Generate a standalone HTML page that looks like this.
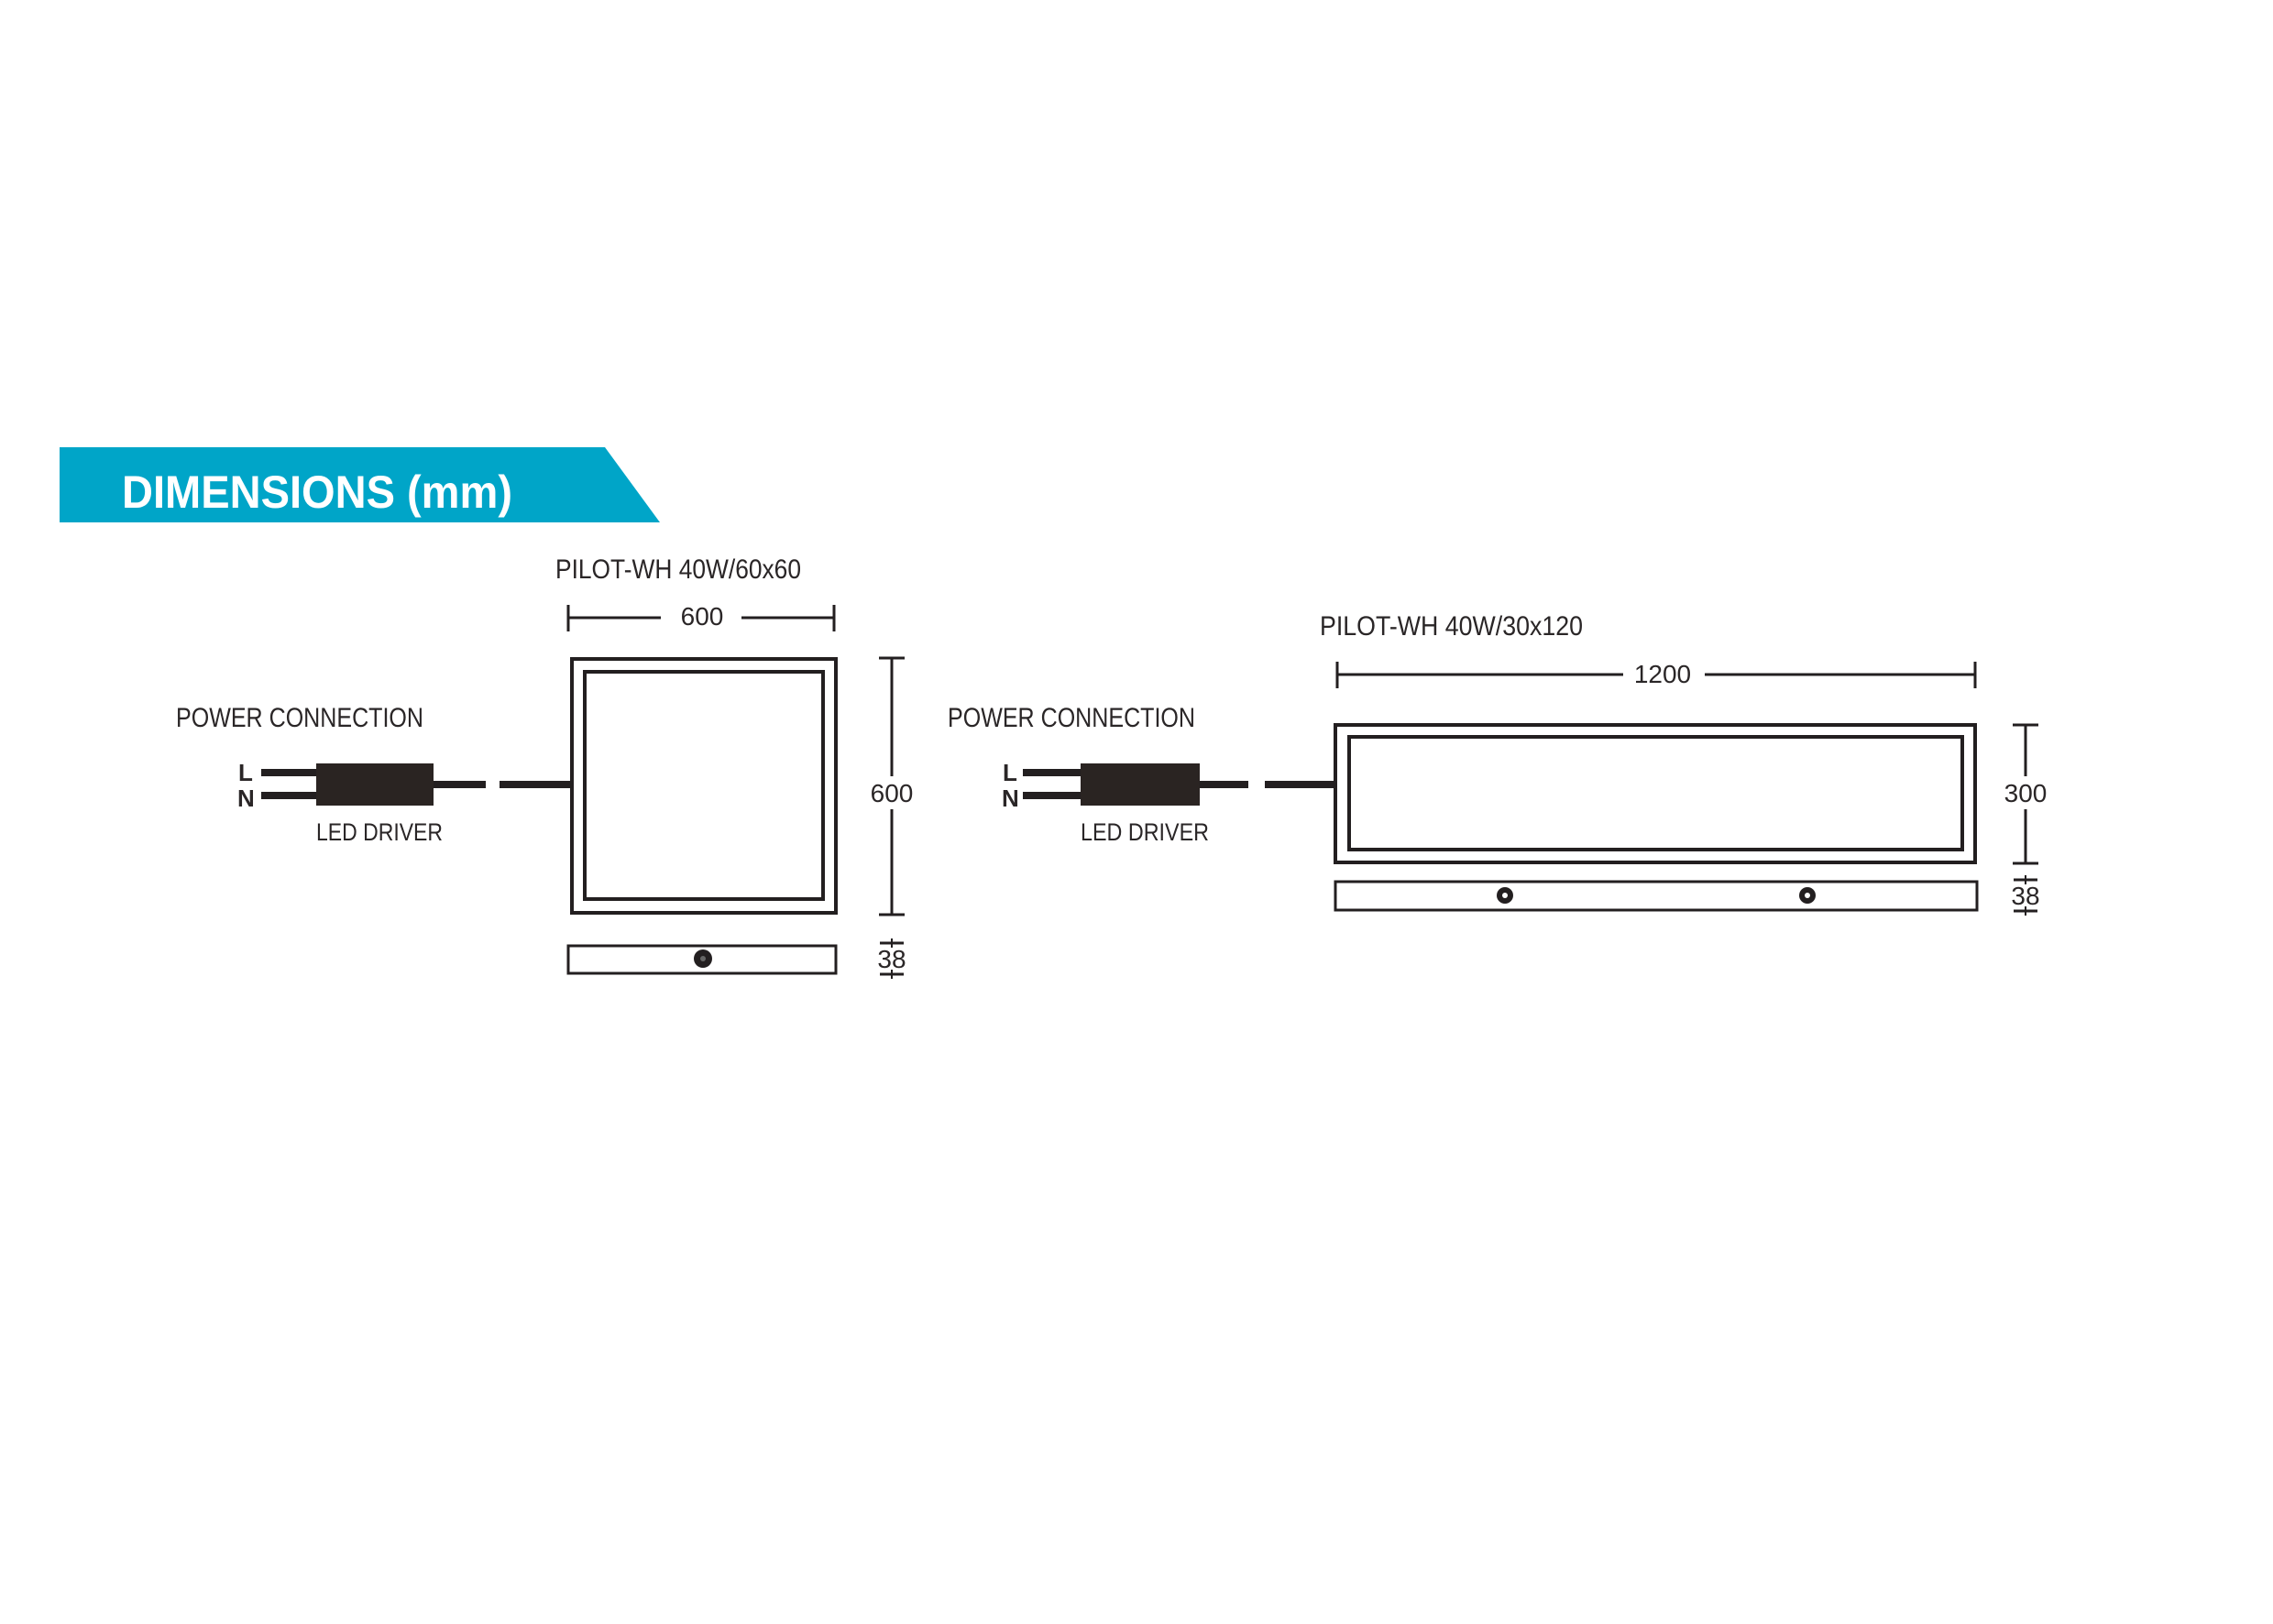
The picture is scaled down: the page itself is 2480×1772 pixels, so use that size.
<!DOCTYPE html>
<html><head><meta charset="utf-8"><style>
html,body{margin:0;padding:0;background:#fff;}
svg{display:block;}
text{font-family:"Liberation Sans",sans-serif;fill:#2a2627;}
</style></head><body>
<svg width="2480" height="1772" viewBox="0 0 2480 1772" xmlns="http://www.w3.org/2000/svg">
<rect width="2480" height="1772" fill="#fff"/>
<!-- banner -->
<polygon points="65,488 660,488 720,570 65,570" fill="#00a5c8"/>
<text x="133" y="554" font-size="50" font-weight="bold" style="fill:#fff" textLength="426" lengthAdjust="spacingAndGlyphs">DIMENSIONS (mm)</text>

<g stroke="#231f20" fill="none">
<!-- LEFT -->
<line x1="619" y1="674" x2="721" y2="674" stroke-width="3"/>
<line x1="809" y1="674" x2="911" y2="674" stroke-width="3"/>
<line x1="620" y1="660" x2="620" y2="689" stroke-width="3"/>
<line x1="910" y1="660" x2="910" y2="689" stroke-width="3"/>
<rect x="624" y="719" width="288" height="277" stroke-width="4"/>
<rect x="638" y="733" width="260" height="248" stroke-width="4"/>
<line x1="973" y1="718" x2="973" y2="847" stroke-width="3"/>
<line x1="973" y1="883" x2="973" y2="998" stroke-width="3"/>
<line x1="959" y1="718" x2="987" y2="718" stroke-width="3"/>
<line x1="959" y1="998" x2="987" y2="998" stroke-width="3"/>
<rect x="620" y="1032" width="292" height="30" stroke-width="3"/>
<line x1="960" y1="1029" x2="986" y2="1029" stroke-width="3"/>
<line x1="960" y1="1063" x2="986" y2="1063" stroke-width="3"/>
<line x1="973" y1="1024" x2="973" y2="1034" stroke-width="2"/>
<line x1="973" y1="1058" x2="973" y2="1068" stroke-width="2"/>
<!-- left driver -->
<line x1="285" y1="843" x2="345" y2="843" stroke-width="8"/>
<line x1="285" y1="868" x2="345" y2="868" stroke-width="8"/>
<line x1="473" y1="856" x2="530" y2="856" stroke-width="8"/>
<line x1="545" y1="856" x2="624" y2="856" stroke-width="8"/>

<!-- RIGHT -->
<line x1="1458" y1="736" x2="1771" y2="736" stroke-width="3"/>
<line x1="1860" y1="736" x2="2156" y2="736" stroke-width="3"/>
<line x1="1459" y1="722" x2="1459" y2="751" stroke-width="3"/>
<line x1="2155" y1="722" x2="2155" y2="751" stroke-width="3"/>
<rect x="1457" y="791" width="698" height="150" stroke-width="4"/>
<rect x="1472" y="804" width="669" height="123" stroke-width="4"/>
<line x1="2210" y1="791" x2="2210" y2="847" stroke-width="3"/>
<line x1="2210" y1="883" x2="2210" y2="942" stroke-width="3"/>
<line x1="2196" y1="791" x2="2224" y2="791" stroke-width="3"/>
<line x1="2196" y1="942" x2="2224" y2="942" stroke-width="3"/>
<rect x="1457" y="962" width="700" height="31" stroke-width="3"/>
<line x1="2197" y1="960" x2="2223" y2="960" stroke-width="3"/>
<line x1="2197" y1="994" x2="2223" y2="994" stroke-width="3"/>
<line x1="2210" y1="955" x2="2210" y2="965" stroke-width="2"/>
<line x1="2210" y1="989" x2="2210" y2="999" stroke-width="2"/>
<line x1="1116" y1="843" x2="1179" y2="843" stroke-width="8"/>
<line x1="1116" y1="868" x2="1179" y2="868" stroke-width="8"/>
<line x1="1309" y1="856" x2="1362" y2="856" stroke-width="8"/>
<line x1="1380" y1="856" x2="1459" y2="856" stroke-width="8"/>
</g>
<rect x="345" y="833" width="128" height="46" fill="#2a2422"/>
<rect x="1179" y="833" width="130" height="46" fill="#2a2422"/>
<circle cx="767" cy="1046" r="10" fill="#231f20"/>
<circle cx="1642" cy="977" r="9" fill="#231f20"/>
<circle cx="1972" cy="977" r="9" fill="#231f20"/>
<circle cx="767" cy="1046" r="3" fill="#666"/>
<circle cx="1642" cy="977" r="3" fill="#fff"/>
<circle cx="1972" cy="977" r="3" fill="#fff"/>

<!-- labels -->
<text x="606" y="631" font-size="30" textLength="268" lengthAdjust="spacingAndGlyphs">PILOT-WH 40W/60x60</text>
<text x="766" y="682" font-size="28" text-anchor="middle">600</text>
<text x="973" y="875" font-size="28" text-anchor="middle">600</text>
<text x="973" y="1056" font-size="28" text-anchor="middle">38</text>
<text x="192" y="793" font-size="30" textLength="270" lengthAdjust="spacingAndGlyphs">POWER CONNECTION</text>
<text x="260" y="852" font-size="26" font-weight="bold">L</text>
<text x="259" y="880" font-size="26" font-weight="bold">N</text>
<text x="345" y="917" font-size="27" textLength="138" lengthAdjust="spacingAndGlyphs">LED DRIVER</text>

<text x="1440" y="693" font-size="30" textLength="287" lengthAdjust="spacingAndGlyphs">PILOT-WH 40W/30x120</text>
<text x="1814" y="745" font-size="28" text-anchor="middle">1200</text>
<text x="2210" y="875" font-size="28" text-anchor="middle">300</text>
<text x="2210" y="987" font-size="28" text-anchor="middle">38</text>
<text x="1034" y="793" font-size="30" textLength="270" lengthAdjust="spacingAndGlyphs">POWER CONNECTION</text>
<text x="1094" y="852" font-size="26" font-weight="bold">L</text>
<text x="1093" y="880" font-size="26" font-weight="bold">N</text>
<text x="1179" y="917" font-size="27" textLength="140" lengthAdjust="spacingAndGlyphs">LED DRIVER</text>
</svg>
</body></html>
